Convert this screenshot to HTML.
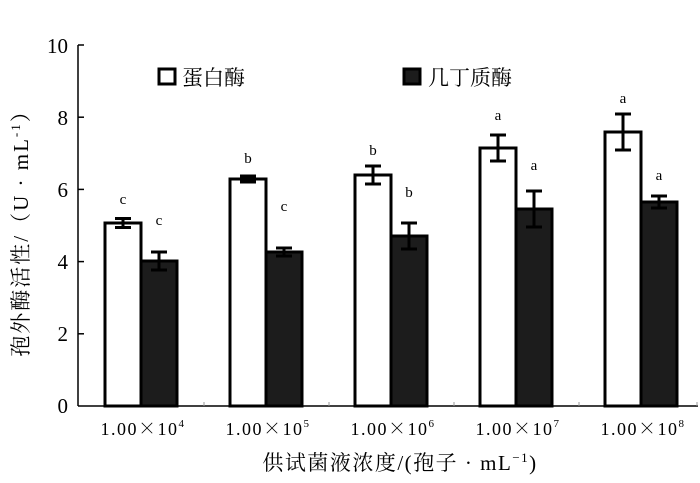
<!DOCTYPE html>
<html><head><meta charset="utf-8"><style>
body{margin:0;background:#fff}
svg text{font-family:"Liberation Serif","Noto Serif CJK SC",serif}
.x{font-family:"Noto Serif CJK SC",serif}
</style></head><body>
<svg width="700" height="478" xmlns="http://www.w3.org/2000/svg">
<rect width="700" height="478" fill="#fff"/>
<g stroke="#000" stroke-width="1.5" fill="none">
<line x1="78" y1="45" x2="78" y2="406"/>
<line x1="78" y1="406" x2="698" y2="406"/>
<line x1="78" y1="45" x2="84" y2="45"/><line x1="78" y1="117.2" x2="84" y2="117.2"/><line x1="78" y1="189.4" x2="84" y2="189.4"/><line x1="78" y1="261.6" x2="84" y2="261.6"/><line x1="78" y1="333.8" x2="84" y2="333.8"/>
</g>
<g stroke="#999" stroke-width="1"><line x1="204" y1="402" x2="204" y2="406"/><line x1="329" y1="402" x2="329" y2="406"/><line x1="454" y1="402" x2="454" y2="406"/><line x1="579" y1="402" x2="579" y2="406"/><line x1="697" y1="402" x2="697" y2="406"/></g>
<g font-size="21" text-anchor="end">
<text x="68" y="53">10</text><text x="68" y="125">8</text><text x="68" y="197">6</text><text x="68" y="269">4</text><text x="68" y="341">2</text><text x="68" y="413">0</text>
</g>
<g stroke="#000" stroke-width="3">
<rect x="105" y="223" width="36" height="183" fill="#fff"/><rect x="141" y="261" width="36" height="145" fill="#1c1c1c"/>
<rect x="230" y="179" width="36" height="227" fill="#fff"/><rect x="266" y="252" width="36" height="154" fill="#1c1c1c"/>
<rect x="355" y="175" width="36" height="231" fill="#fff"/><rect x="391" y="236" width="36" height="170" fill="#1c1c1c"/>
<rect x="480" y="148" width="36" height="258" fill="#fff"/><rect x="516" y="209" width="36" height="197" fill="#1c1c1c"/>
<rect x="605" y="132" width="36" height="274" fill="#fff"/><rect x="641" y="202" width="36" height="204" fill="#1c1c1c"/>
</g>
<g stroke="#000" stroke-width="3" fill="none">
<path d="M123 218.5V227.5M115 218.5H131M115 227.5H131"/>
<path d="M159 252V270M151 252H167M151 270H167"/>
<path d="M248 176V182M240 176H256M240 182H256"/>
<path d="M284 248V256M276 248H292M276 256H292"/>
<path d="M373 166V184M365 166H381M365 184H381"/>
<path d="M409 223V249M401 223H417M401 249H417"/>
<path d="M498 135V161M490 135H506M490 161H506"/>
<path d="M534 191V227M526 191H542M526 227H542"/>
<path d="M623 114V150M615 114H631M615 150H631"/>
<path d="M659 196V208M651 196H667M651 208H667"/>
</g>
<g font-size="15" text-anchor="middle">
<text x="123" y="204">c</text><text x="159" y="225">c</text>
<text x="248" y="163">b</text><text x="284" y="211">c</text>
<text x="373" y="155">b</text><text x="409" y="197">b</text>
<text x="498" y="120">a</text><text x="534" y="170">a</text>
<text x="623" y="103">a</text><text x="659" y="180">a</text>
</g>
<rect x="159" y="69" width="16" height="15" fill="#fff" stroke="#000" stroke-width="3"/>
<text x="182" y="85" font-size="21">蛋白酶</text>
<rect x="404" y="69" width="16" height="15" fill="#1c1c1c" stroke="#000" stroke-width="3"/>
<text x="428" y="85" font-size="21">几丁质酶</text>
<g font-size="18" text-anchor="middle" letter-spacing="1.5">
<text x="143" y="435">1.00<tspan class="x">×</tspan>10<tspan font-size="11" dy="-8">4</tspan></text>
<text x="268" y="435">1.00<tspan class="x">×</tspan>10<tspan font-size="11" dy="-8">5</tspan></text>
<text x="393" y="435">1.00<tspan class="x">×</tspan>10<tspan font-size="11" dy="-8">6</tspan></text>
<text x="518" y="435">1.00<tspan class="x">×</tspan>10<tspan font-size="11" dy="-8">7</tspan></text>
<text x="643" y="435">1.00<tspan class="x">×</tspan>10<tspan font-size="11" dy="-8">8</tspan></text>
</g>
<text x="400" y="470" font-size="21" text-anchor="middle" letter-spacing="1.5">供试菌液浓度/(孢子 · mL<tspan font-size="13" dy="-8">−1</tspan><tspan dy="8">)</tspan></text>
<text transform="translate(28,228) rotate(-90)" font-size="21" text-anchor="middle" letter-spacing="2">孢外酶活性/（U · mL<tspan font-size="13" dy="-8">-1</tspan><tspan dy="8">）</tspan></text>
</svg>
</body></html>
